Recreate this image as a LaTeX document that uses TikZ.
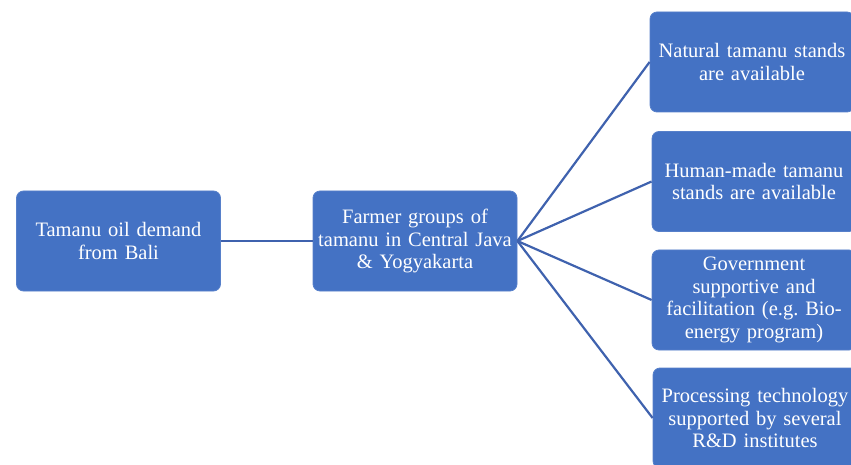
\documentclass[tikz,border=0pt]{standalone}
\usepackage{fontspec}
\setmainfont{Liberation Serif}
\definecolor{boxblue}{HTML}{4472C4}
\definecolor{lineblue}{HTML}{3F62AE}
\frenchspacing
\begin{document}
\begin{tikzpicture}[x=1pt,y=1pt,
  box/.style={fill=boxblue, draw=boxblue!90!white, line width=0.8pt, rounded corners=7pt,
    minimum width=204pt, minimum height=100pt, text width=200pt, align=center,
    text=white, font=\fontsize{20.5}{22.5}\selectfont\frenchspacing, inner sep=2pt},
  link/.style={draw=lineblue, line width=2.2pt}]
\useasboundingbox (0,0) rectangle (851,464);
\node[box] (L) at (118.5,223) {Tamanu oil demand\\from Bali};
\node[box] (M) at (415,223) {Farmer groups of\\tamanu in Central Java\\\& Yogyakarta};
\node[box] (R1) at (752,402) {Natural tamanu stands\\are available};
\node[box] (R2) at (754,282.5) {Human-made tamanu\\stands are available};
\node[box] (R3) at (754,164) {Government\\supportive and\\facilitation (e.g. Bio-\\energy program)};
\node[box] (R4) at (755,46) {Processing technology\\supported by several\\R\&D institutes};
\draw[link] (L) -- (M);
\draw[link] (M.east) -- (R1.west);
\draw[link] (M.east) -- (R2.west);
\draw[link] (M.east) -- (R3.west);
\draw[link] (M.east) -- (R4.west);
\end{tikzpicture}
\end{document}
